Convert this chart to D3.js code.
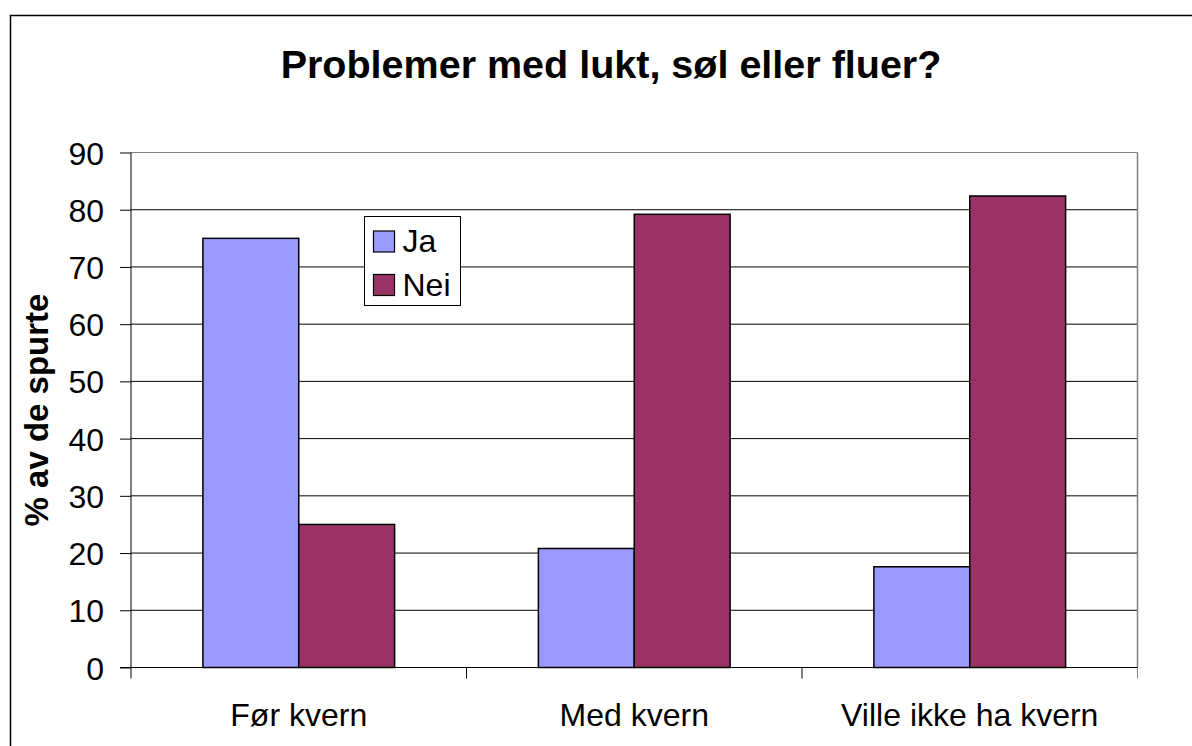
<!DOCTYPE html>
<html>
<head>
<meta charset="utf-8">
<script src="https://cdn.jsdelivr.net/npm/d3@7"></script>
<style>
  html, body { margin: 0; background: #fff; overflow: hidden; }
  svg { display: block; }
  text { font-family: "Liberation Sans", Arial, sans-serif; fill: #000; }
</style>
</head>
<body>
<div id="chart"></div>
<script>
// data
var categories = ["Før kvern", "Med kvern", "Ville ikke ha kvern"];
var seriesNames = ["Ja", "Nei"];
var jaValues = [75, 20.8, 17.6];
var neiValues = [25, 79.2, 82.4];
var yTicks = [0, 10, 20, 30, 40, 50, 60, 70, 80, 90];
var colors = ["#9999ff", "#993366"];

var W = 1192, H = 746;
// note: "top" is taken by window.top, so use plot* names
var plotLeft = 131, plotRight = 1137.5, plotTop = 152.5, plotBottom = 667.5;

var svg = d3.select("#chart").append("svg")
    .attr("width", W)
    .attr("height", H);

// outer chart border (runs off the right and bottom edge)
svg.append("rect")
    .attr("x", 10.5).attr("y", 15.5)
    .attr("width", 1300).attr("height", 900)
    .attr("fill", "#fff")
    .attr("stroke", "#000")
    .attr("stroke-width", 1.5);

svg.append("text")
    .attr("x", 611).attr("y", 78)
    .attr("text-anchor", "middle")
    .style("font-size", "39.5px")
    .style("font-weight", "bold")
    .text("Problemer med lukt, søl eller fluer?");

var x0 = d3.scaleBand().domain(categories).range([plotLeft, plotRight]).padding(0);
var x1 = d3.scaleBand().domain(seriesNames)
    .range([0, x0.bandwidth()])
    .paddingInner(0).paddingOuter(0.75);
var y = d3.scaleLinear().domain([0, 90]).range([plotBottom, plotTop]);

// gridlines
svg.append("g")
    .selectAll("line")
    .data(yTicks.slice(1))
    .enter().append("line")
    .attr("x1", plotLeft).attr("x2", plotRight)
    .attr("y1", function (d) { return y(d); })
    .attr("y2", function (d) { return y(d); })
    .attr("stroke", function (d) { return d === 90 ? "#808080" : "#000"; })
    .attr("stroke-width", 1);

// plot area right border
svg.append("line")
    .attr("x1", plotRight).attr("x2", plotRight)
    .attr("y1", plotTop).attr("y2", plotBottom)
    .attr("stroke", "#808080").attr("stroke-width", 1.5);

// bars
var rows = categories.map(function (c, i) {
    return { cat: c, vals: [jaValues[i], neiValues[i]] };
});
var groups = svg.append("g").selectAll("g")
    .data(rows)
    .enter().append("g")
    .attr("transform", function (d) { return "translate(" + x0(d.cat) + ",0)"; });

groups.selectAll("rect")
    .data(function (d) {
        return d.vals.map(function (v, j) { return { key: seriesNames[j], v: v, j: j }; });
    })
    .enter().append("rect")
    .attr("x", function (d) { return x1(d.key); })
    .attr("y", function (d) { return y(d.v); })
    .attr("width", x1.bandwidth())
    .attr("height", function (d) { return y(0) - y(d.v); })
    .attr("fill", function (d) { return colors[d.j]; })
    .attr("stroke", "#000")
    .attr("stroke-width", 1.5);

// y axis
var yAxis = svg.append("g")
    .attr("transform", "translate(" + plotLeft + ",0)")
    .call(d3.axisLeft(y).tickValues(yTicks).tickSize(11).tickPadding(16));
yAxis.select(".domain").attr("stroke", "#000").attr("d", "M0," + plotTop + "V" + plotBottom);
yAxis.selectAll(".tick line").attr("stroke", "#000");
yAxis.selectAll("text")
    .style("font-size", "32px")
    .attr("font-family", null)
    .attr("dy", "0.36em");

// x axis
var xAxis = svg.append("g")
    .attr("transform", "translate(0," + plotBottom + ")");
xAxis.append("line")
    .attr("x1", plotLeft - 11).attr("x2", plotRight)
    .attr("stroke", "#000");
xAxis.selectAll(".xt")
    .data(d3.range(categories.length + 1))
    .enter().append("line")
    .attr("x1", function (i) { return plotLeft + i * x0.step(); })
    .attr("x2", function (i) { return plotLeft + i * x0.step(); })
    .attr("y1", 0).attr("y2", 11)
    .attr("stroke", function (i) { return i === categories.length ? "#808080" : "#000"; });
xAxis.selectAll(".xl")
    .data(categories)
    .enter().append("text")
    .attr("x", function (d) { return x0(d) + x0.bandwidth() / 2; })
    .attr("y", 58)
    .attr("text-anchor", "middle")
    .style("font-size", "32px")
    .text(function (d) { return d; });

// y axis title
svg.append("text")
    .attr("transform", "translate(48," + ((plotTop + plotBottom) / 2) + ") rotate(-90)")
    .attr("text-anchor", "middle")
    .style("font-size", "33px")
    .style("font-weight", "bold")
    .text("% av de spurte");

// legend
var lg = svg.append("g").attr("transform", "translate(364.5,216.5)");
lg.append("rect")
    .attr("width", 96).attr("height", 89)
    .attr("fill", "#fff")
    .attr("stroke", "#000").attr("stroke-width", 1);
var items = lg.selectAll(".item")
    .data(seriesNames)
    .enter().append("g")
    .attr("transform", function (d, i) { return "translate(9," + (14.5 + i * 43.5) + ")"; });
items.append("rect")
    .attr("width", 21).attr("height", 21)
    .attr("fill", function (d, i) { return colors[i]; })
    .attr("stroke", "#000").attr("stroke-width", 1.2);
items.append("text")
    .attr("x", 29).attr("y", 21)
    .style("font-size", "32px")
    .text(function (d) { return d; });
</script>
</body>
</html>
